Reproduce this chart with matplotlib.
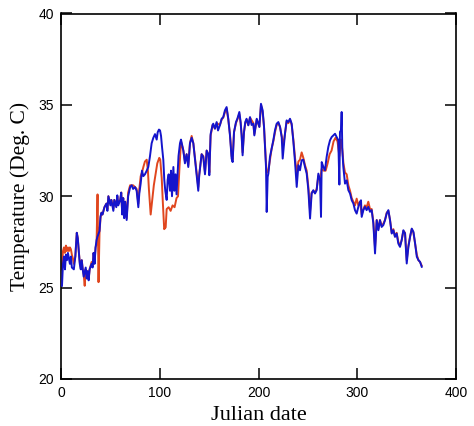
import matplotlib
matplotlib.use("Agg")
import matplotlib.pyplot as plt

# Blue series (day, temperature)
blue_days = [1, 2, 3, 4, 5, 6, 7, 9, 10, 11, 13, 14.5, 16, 17, 18, 19, 20, 21, 22, 23,
             25, 26, 27, 28, 29, 31, 32, 33, 34, 35, 36, 37, 39, 40, 41, 42, 44, 46, 47, 48,
             50, 51, 53, 54, 56, 57, 58, 60, 61, 62, 63, 64, 65, 66.5, 68, 70, 71.6, 73, 75, 76.6,
             78.3, 79.3, 80.7, 82, 83.4, 85, 86.8, 88.4, 90, 91.8, 93.5, 95.2, 96.9, 97.9, 99.2, 100.3,
             101.3, 102.3, 103.6, 104.6, 105.6, 107, 108, 109, 110.4, 111.4, 112.4, 113.8, 114.8, 116,
             117, 118, 119, 120.5, 121.5, 123.9, 125.5, 127.2, 128.9, 130.6, 132.3, 134, 135.7, 137.3,
             139, 140, 142.4, 144.1, 145.8, 147.5, 149.2, 150.2, 151.5, 153.5, 154.2, 155.9, 157.6,
             159, 160.9, 162.7, 164.3, 166, 167.7, 169.4, 171.1, 172.8, 173.8, 175.2, 177.2, 178.6,
             180.6, 181.9, 182.9, 183.9, 185.3, 186.6, 187.9, 189.7, 191.4, 193, 194.8, 195.8, 198.2,
             200.9, 202.5, 204.2, 205.6, 206.6, 207.6, 208.3, 209.3, 210, 211.6, 213.3, 215, 216.7,
             218.4, 220.1, 221.8, 223.5, 224.5, 226.8, 228.5, 230.2, 231.9, 233.6, 235.3, 237, 238.7,
             240.4, 242, 243.7, 245.4, 247.1, 248.8, 250.5, 252.2, 253.8, 255.5, 257.2, 258.9, 260.6,
             262.3, 263.3, 264, 265.7, 267.3, 269, 270.7, 272.4, 274.1, 275.8, 277.5, 279.2, 280.8,
             281.9, 282.5, 283.5, 284.2, 284.9, 285.9, 287.6, 289.3, 291, 292.7, 294.4, 296.1, 297.7,
             299.4, 301.1, 302.8, 303.8, 304.5, 306.2, 307.8, 309.5, 311.2, 312.9, 314.6, 316.3, 317.3,
             318, 319.7, 321.4, 323, 324.7, 326.4, 328.1, 329.8, 331.5, 333.2, 334.9, 336.6, 338.2,
             339.9, 341.6, 343.3, 345, 346.7, 348.4, 350.1, 351.8, 353.5, 355.2, 356.9, 358.6, 360.3,
             362, 363.6, 365.3]
blue_temp = [25.1, 26.3, 26.7, 26.0, 26.8, 26.5, 26.9, 26.3, 26.7, 26.1, 26.0, 26.7, 28.0, 27.7, 27.0, 26.3, 26.0, 26.5, 26.0, 25.6,
             26.1, 25.5, 25.9, 25.4, 26.0, 26.3, 26.1, 26.9, 26.3, 27.2, 27.6, 27.8, 28.1, 28.9, 29.1, 29.0, 29.4, 29.6, 29.2, 30.0,
             29.5, 29.8, 29.2, 29.8, 29.4, 30.05, 29.5, 29.8, 30.2, 29.0, 29.9, 28.8, 29.7, 28.7, 30.0, 30.5, 30.6, 30.4, 30.5, 30.3,
             29.4, 30.15, 30.7, 31.4, 31.1, 31.2, 31.4, 31.6, 32.15, 32.9, 33.2, 33.4, 33.1, 33.5, 33.65, 33.6,
             33.3, 32.7, 32.0, 30.9, 30.3, 29.8, 30.9, 31.2, 30.3, 31.4, 30.0, 31.6, 30.3, 31.2,
             30.1, 31.1, 32.2, 32.9, 33.1, 32.5, 31.8, 32.3, 31.6, 32.9, 33.2, 32.9, 32.0, 31.2,
             30.3, 31.15, 32.3, 32.15, 31.2, 32.5, 32.3, 31.15, 33.4, 33.9, 33.97, 33.7, 34.06,
             33.6, 33.88, 34.24, 34.33, 34.7, 34.88, 34.24, 33.33, 32.06, 31.87, 33.51, 34.06, 34.24,
             34.61, 34.06, 33.33, 32.24, 33.51, 34.06, 34.24, 33.88, 34.33, 33.9, 33.97, 33.33, 34.24,
             33.79, 35.06, 34.7, 33.79, 32.7, 31.6, 29.14, 31.06, 31.24, 32.15, 32.6, 33.06, 33.61,
             33.97, 34.06, 33.79, 33.24, 32.06, 33.42, 34.15, 34.06, 34.24, 33.97, 33.0, 31.87, 30.51,
             31.7, 31.42, 31.97, 32.0, 31.6, 31.24, 30.33, 28.78, 30.15, 30.33, 30.15, 30.33, 31.24,
             30.87, 28.87, 31.87, 31.6, 31.42, 32.15, 32.7, 33.06, 33.24, 33.33, 33.42, 33.24, 33.06,
             30.64, 33.52, 33.61, 34.61, 32.51, 31.6, 30.69, 30.87, 30.33, 30.15, 29.78, 29.6, 29.24,
             29.05, 29.42, 29.69, 29.78, 28.87, 29.24, 29.42, 29.24, 29.42, 29.15, 29.24, 28.51, 27.6,
             26.87, 28.69, 28.14, 28.69, 28.32, 28.42, 28.69, 29.05, 29.24, 28.69, 27.96, 28.14, 27.78,
             27.96, 27.41, 27.23, 27.6, 28.14, 27.96, 26.32, 27.23, 27.78, 28.23, 28.05, 27.41, 26.69,
             26.5, 26.41, 26.14]

# Red series (day, temperature)
red_days = [1, 2, 3, 4, 5, 6, 7, 8, 9, 10, 11, 12, 13, 14.5, 16, 17, 18, 19, 20, 21,
            22, 23, 24, 25, 26, 27, 28, 29, 31, 32, 33, 34, 35, 36, 37, 38, 39, 40, 41, 42,
            44, 46, 47, 48, 50, 51, 53, 54, 56, 57, 58, 60, 61, 62, 63, 64, 65, 66.5, 68, 70,
            71.6, 73, 75, 76.6, 78.3, 79.3, 80.7, 82, 83.4, 85, 86.8, 88, 89, 90.8, 92, 94,
            96, 97.5, 99.5, 100.5, 102, 103, 104.5, 106, 107, 109, 111, 113, 115, 117, 118.5, 120,
            121.5, 123.9, 125.5, 127.2, 128.9, 130.6, 132.3, 134, 135.7, 137.3, 139, 140, 142.4, 144.1,
            145.8, 147.5, 149.2, 150.2, 151.5, 153.5, 155.9, 157.6, 160.9, 162.7, 164.3, 166, 167.7,
            169.4, 171.1, 172.8, 173.8, 175.2, 177.2, 178.6, 180.6, 181.9, 182.9, 183.9, 185.3, 186.6,
            187.9, 189.7, 191.4, 194.8, 195.8, 198.2, 200.9, 202.5, 204.2, 205.6, 206.6, 207.6, 208.3,
            209.3, 210, 211.6, 213.3, 215, 216.7, 218.4, 220.1, 221.8, 223.5, 225.1, 226.8, 228.5,
            230.2, 231.9, 233.6, 235.3, 237, 238.7, 240.4, 242, 243.7, 245.4, 247.1, 248.8, 250.5,
            252.2, 253.8, 255.5, 257.2, 258.9, 260.6, 262.3, 264, 266, 268, 270, 272, 274, 276, 278,
            280, 281.9, 283.5, 285, 286, 287.6, 289.3, 291, 292.7, 294.4, 296.1, 297.7, 299.4, 301.1,
            302.8, 304.5, 306.2, 307.8, 309.5, 311.2, 312.9, 314.6, 316.3, 318, 319.7, 321.4, 323, 324.7,
            326.4, 328.1, 329.8, 331.5, 333.2, 334.9, 336.6, 338.2, 339.9, 341.6, 343.3, 345, 346.7,
            348.4, 350.1, 351.8, 353.5, 355.2, 356.9, 358.6, 360.3, 362, 363.6, 365.3]
red_temp = [26.0, 27.0, 27.2, 26.9, 27.3, 27.0, 27.2, 27.0, 27.2, 27.1, 26.8, 26.6, 26.3, 26.7, 28.0, 27.7, 27.0, 26.4, 26.1, 26.5,
            26.0, 25.7, 25.1, 26.0, 25.6, 25.9, 25.5, 26.0, 26.4, 26.2, 26.9, 26.5, 27.2, 27.4, 30.1, 25.3, 28.0, 28.8, 29.1, 29.0,
            29.4, 29.6, 29.3, 30.0, 29.6, 29.8, 29.3, 29.8, 29.5, 30.0, 29.6, 29.8, 30.2, 29.1, 29.9, 28.9, 29.7, 28.8, 30.2, 30.6,
            30.6, 30.6, 30.5, 30.4, 29.6, 30.4, 31.1, 31.3, 31.6, 31.9, 32.0, 31.4, 30.4, 29.0, 29.6, 30.6,
            31.3, 31.8, 32.1, 32.0, 31.0, 29.8, 28.2, 28.3, 29.3, 29.4, 29.2, 29.5, 29.4, 29.9, 30.0, 31.6,
            33.0, 32.5, 31.9, 32.3, 31.7, 32.9, 33.3, 32.9, 32.1, 31.3, 30.5, 31.2, 32.3, 32.2,
            31.3, 32.5, 32.3, 31.3, 33.3, 33.9, 33.7, 34.0, 33.9, 34.2, 34.3, 34.6, 34.8,
            34.2, 33.4, 32.2, 32.0, 33.5, 34.0, 34.2, 34.5, 34.0, 33.4, 32.4, 33.5, 34.0,
            34.2, 33.9, 34.3, 34.0, 33.4, 34.2, 33.8, 35.0, 34.6, 33.8, 32.8, 31.8, 31.3,
            31.3, 31.4, 32.0, 32.6, 33.0, 33.5, 33.9, 34.0, 33.8, 33.3, 32.8, 33.4, 34.1,
            34.0, 34.2, 33.9, 33.1, 32.1, 31.2, 31.9, 32.0, 32.4, 32.1, 31.7, 31.4, 30.5,
            29.2, 30.2, 30.3, 30.2, 30.4, 31.1, 30.9, 31.5, 31.4, 31.4, 31.8, 32.3, 32.5, 33.0, 33.2,
            33.0, 32.2, 33.1, 32.5, 31.8, 31.3, 31.2, 30.6, 30.3, 29.9, 29.7, 29.5, 29.87, 29.5,
            29.7, 29.0, 29.3, 29.5, 29.4, 29.7, 29.3, 29.3, 28.6, 27.2, 28.7, 28.2, 28.7, 28.4,
            28.5, 28.7, 29.1, 29.2, 28.7, 28.0, 28.2, 27.8, 28.0, 27.5, 27.3, 27.6, 28.1,
            28.0, 26.5, 27.3, 27.8, 28.2, 28.0, 27.4, 26.8, 26.5, 26.4, 26.2]

x_ticks = [0, 100, 200, 300, 400]
y_ticks = [20, 25, 30, 35, 40]

fig = plt.figure(figsize=(4.74, 4.26), dpi=100)
ax = fig.add_axes([61/474, 1 - 379/426, 395/474, 365.5/426])

ax.plot(red_days, red_temp, color="#e0461e", lw=1.4, zorder=2)
ax.plot(blue_days, blue_temp, color="#1414cc", lw=1.4, zorder=3)

ax.set_xlim(0, 400)
ax.set_ylim(20, 40)
ax.set_xticks(x_ticks)
ax.set_yticks(y_ticks)
ax.tick_params(direction="in", length=8, width=1.1, top=True, right=True,
               labelsize=10, pad=5)
for lab in ax.get_xticklabels() + ax.get_yticklabels():
    lab.set_fontfamily("Liberation Sans")
for sp in ax.spines.values():
    sp.set_linewidth(1.2)

ax.set_xlabel("Julian date", family="Liberation Serif", fontsize=16, labelpad=4)
ax.set_ylabel("Temperature (Deg. C)", family="Liberation Serif", fontsize=15.5, labelpad=6)

fig.savefig("out.png", dpi=100)
